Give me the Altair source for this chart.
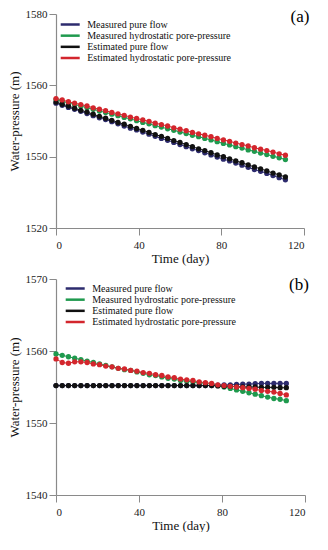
import altair as alt
import pandas as pd

FONT = "Liberation Serif"

days = [0, 3, 6, 9, 12, 15, 18, 21, 24, 27, 30, 33, 36, 39, 42, 45, 48, 51, 54, 57,
        60, 63, 66, 69, 72, 75, 78, 81, 84, 87, 90, 93, 96, 99, 102, 105, 108, 111]

series_names = ["Measured pure flow", "Measured hydrostatic pore-pressure",
                "Estimated pure flow", "Estimated hydrostatic pore-pressure"]
series_colors = ["#2d2b6e", "#1f9a4e", "#111111", "#d3262d"]

# Panel (a)
a_measured_pure = [1555.0, 1554.4, 1553.8, 1553.3, 1552.7, 1552.1, 1551.5, 1550.9, 1550.4, 1549.8,
                   1549.2, 1548.6, 1548.0, 1547.5, 1546.9, 1546.3, 1545.7, 1545.1, 1544.6, 1544.0,
                   1543.4, 1542.8, 1542.2, 1541.7, 1541.1, 1540.5, 1539.9, 1539.3, 1538.8, 1538.2,
                   1537.6, 1537.0, 1536.4, 1535.9, 1535.3, 1534.7, 1534.1, 1533.5]
a_measured_hydro = [1556.0, 1555.5, 1555.1, 1554.6, 1554.2, 1553.7, 1553.3, 1552.8, 1552.4, 1551.9,
                    1551.5, 1551.0, 1550.6, 1550.1, 1549.6, 1549.2, 1548.7, 1548.3, 1547.8, 1547.4,
                    1546.9, 1546.5, 1546.0, 1545.6, 1545.1, 1544.7, 1544.2, 1543.7, 1543.3, 1542.8,
                    1542.4, 1541.9, 1541.5, 1541.0, 1540.6, 1540.1, 1539.7, 1539.2]
a_estimated_pure = [1555.3, 1554.7, 1554.2, 1553.6, 1553.0, 1552.5, 1551.9, 1551.3, 1550.8, 1550.2,
                    1549.6, 1549.1, 1548.5, 1547.9, 1547.4, 1546.8, 1546.2, 1545.7, 1545.1, 1544.5,
                    1544.0, 1543.4, 1542.8, 1542.2, 1541.7, 1541.1, 1540.5, 1540.0, 1539.4, 1538.8,
                    1538.3, 1537.7, 1537.1, 1536.6, 1536.0, 1535.4, 1534.9, 1534.3]
a_estimated_hydro = [1556.3, 1555.9, 1555.4, 1555.0, 1554.6, 1554.2, 1553.7, 1553.3, 1552.9, 1552.4,
                     1552.0, 1551.6, 1551.1, 1550.7, 1550.3, 1549.9, 1549.4, 1549.0, 1548.6, 1548.1,
                     1547.7, 1547.3, 1546.8, 1546.4, 1546.0, 1545.6, 1545.1, 1544.7, 1544.3, 1543.8,
                     1543.4, 1543.0, 1542.5, 1542.1, 1541.7, 1541.3, 1540.8, 1540.4]

# Panel (b)
b_measured_pure = [1555.2, 1555.2, 1555.2, 1555.2, 1555.2, 1555.2, 1555.2, 1555.2, 1555.2, 1555.2,
                   1555.2, 1555.2, 1555.2, 1555.2, 1555.2, 1555.2, 1555.2, 1555.2, 1555.2, 1555.2,
                   1555.2, 1555.2, 1555.2, 1555.2, 1555.2, 1555.2, 1555.25, 1555.3, 1555.3, 1555.35,
                   1555.4, 1555.4, 1555.45, 1555.5, 1555.5, 1555.5, 1555.5, 1555.5]
b_measured_hydro = [1559.6, 1559.4, 1559.2, 1559.0, 1558.8, 1558.6, 1558.4, 1558.2, 1558.0, 1557.8,
                    1557.6, 1557.4, 1557.3, 1557.1, 1556.9, 1556.7, 1556.6, 1556.4, 1556.2, 1556.1,
                    1555.9, 1555.8, 1555.7, 1555.6, 1555.5, 1555.4, 1555.2, 1555.0, 1554.8, 1554.6,
                    1554.4, 1554.2, 1554.0, 1553.8, 1553.6, 1553.4, 1553.3, 1553.1]
b_estimated_pure = [1555.2, 1555.2, 1555.2, 1555.2, 1555.2, 1555.2, 1555.2, 1555.2, 1555.2, 1555.2,
                    1555.2, 1555.2, 1555.2, 1555.2, 1555.2, 1555.2, 1555.2, 1555.2, 1555.2, 1555.2,
                    1555.2, 1555.2, 1555.2, 1555.2, 1555.2, 1555.2, 1555.15, 1555.1, 1555.1, 1555.05,
                    1555.0, 1555.0, 1555.0, 1554.95, 1554.95, 1554.95, 1554.9, 1554.9]
b_estimated_hydro = [1558.9, 1558.4, 1558.3, 1558.5, 1558.5, 1558.4, 1558.2, 1558.1, 1557.9, 1557.8,
                     1557.6, 1557.5, 1557.3, 1557.2, 1557.0, 1556.9, 1556.7, 1556.6, 1556.4, 1556.3,
                     1556.1, 1556.0, 1555.9, 1555.7, 1555.6, 1555.5, 1555.3, 1555.2, 1555.1, 1555.0,
                     1554.9, 1554.8, 1554.7, 1554.5, 1554.4, 1554.3, 1554.1, 1553.9]

x_ticks = [0, 40, 80, 120]
a_y_ticks = [1520, 1540, 1560, 1580]
a_y_tick_labels = ["1520", "1550", "1560", "1580"]
b_y_ticks = [1540, 1550, 1560, 1570]
b_y_tick_labels = ["1540", "1550", "1560", "1570"]


def label_expr(ticks, labels):
    parts = []
    for t, l in zip(ticks, labels):
        parts.append(f"datum.value == {t} ? '{l}' : ")
    return "".join(parts) + "datum.label"


color_scale = alt.Scale(domain=series_names, range=series_colors)


def panel(series_vals, yticks, ylabels, tag, w, h, lx, ly0, ly1, tag_x, tag_y):
    rows = []
    for name, vals in zip(series_names, series_vals):
        for d, v in zip(days, vals):
            rows.append({"day": d, "wp": v, "series": name})
    df = pd.DataFrame(rows)
    x = alt.X("day:Q", title="Time (day)",
              scale=alt.Scale(domain=[0, 120], nice=False),
              axis=alt.Axis(values=x_ticks, format="d"))
    y = alt.Y("wp:Q", title="Water-pressure (m)",
              scale=alt.Scale(domain=[yticks[0], yticks[-1]], nice=False, zero=False),
              axis=alt.Axis(values=yticks, labelExpr=label_expr(yticks, ylabels)))
    color = alt.Color("series:N", sort=series_names, scale=color_scale, legend=None)
    lines = alt.Chart(df).mark_line(
        strokeWidth=1,
        point=alt.OverlayMarkDef(filled=True, size=28, opacity=1),
    ).encode(x=x, y=y, color=color, order=alt.Order("day:Q"))

    # legend drawn inside the plot
    leg_df = pd.DataFrame({"series": series_names, "row": list(range(len(series_names)))})
    ly = alt.Y("row:Q", scale=alt.Scale(domain=[0, len(series_names) - 1], range=[ly0, ly1]),
               axis=None)
    leg_lines = alt.Chart(leg_df).mark_rule(strokeWidth=2.5).encode(
        x=alt.value(lx), x2=alt.value(lx + 19), y=ly, color=color)
    leg_text = alt.Chart(leg_df).mark_text(align="left", baseline="middle", font=FONT,
                                           fontSize=10, color="#111").encode(
        x=alt.value(lx + 26.5), y=ly, text="series:N")

    tag_df = pd.DataFrame({"t": [tag]})
    label = alt.Chart(tag_df).mark_text(fontSize=17, font=FONT, align="center",
                                        baseline="middle", color="black").encode(
        text="t:N", x=alt.value(tag_x), y=alt.value(tag_y))
    return alt.layer(lines, leg_lines, leg_text, label).resolve_scale(y="independent") \
        .properties(width=w, height=h)


pa = panel([a_measured_pure, a_measured_hydro, a_estimated_pure, a_estimated_hydro],
           a_y_ticks, a_y_tick_labels, "(a)", 248, 214, 4.7, 10.5, 44, 244, 3)
pb = panel([b_measured_pure, b_measured_hydro, b_estimated_pure, b_estimated_hydro],
           b_y_ticks, b_y_tick_labels, "(b)", 249, 216, 9.7, 9.5, 43, 243, 6)

chart = alt.vconcat(pa, pb, spacing=8).resolve_scale(color="shared") \
    .properties(padding={"left": 0, "top": 0, "right": 0, "bottom": 0}) \
    .configure_view(stroke=None) \
    .configure_axis(grid=False, domainColor="#8a8a8a", tickColor="#8a8a8a", tickSize=7,
                    labelFont=FONT, titleFont=FONT, labelFontSize=11, titleFontSize=13,
                    titleFontWeight="normal", labelColor="#222", titleColor="#111",
                    domainWidth=1.2) \
    .configure_axisY(titlePadding=4, labelPadding=2) \
    .configure_axisX(titlePadding=2, labelPadding=4)

chart.save("out.html", embed_options={"renderer": "svg", "actions": False})
